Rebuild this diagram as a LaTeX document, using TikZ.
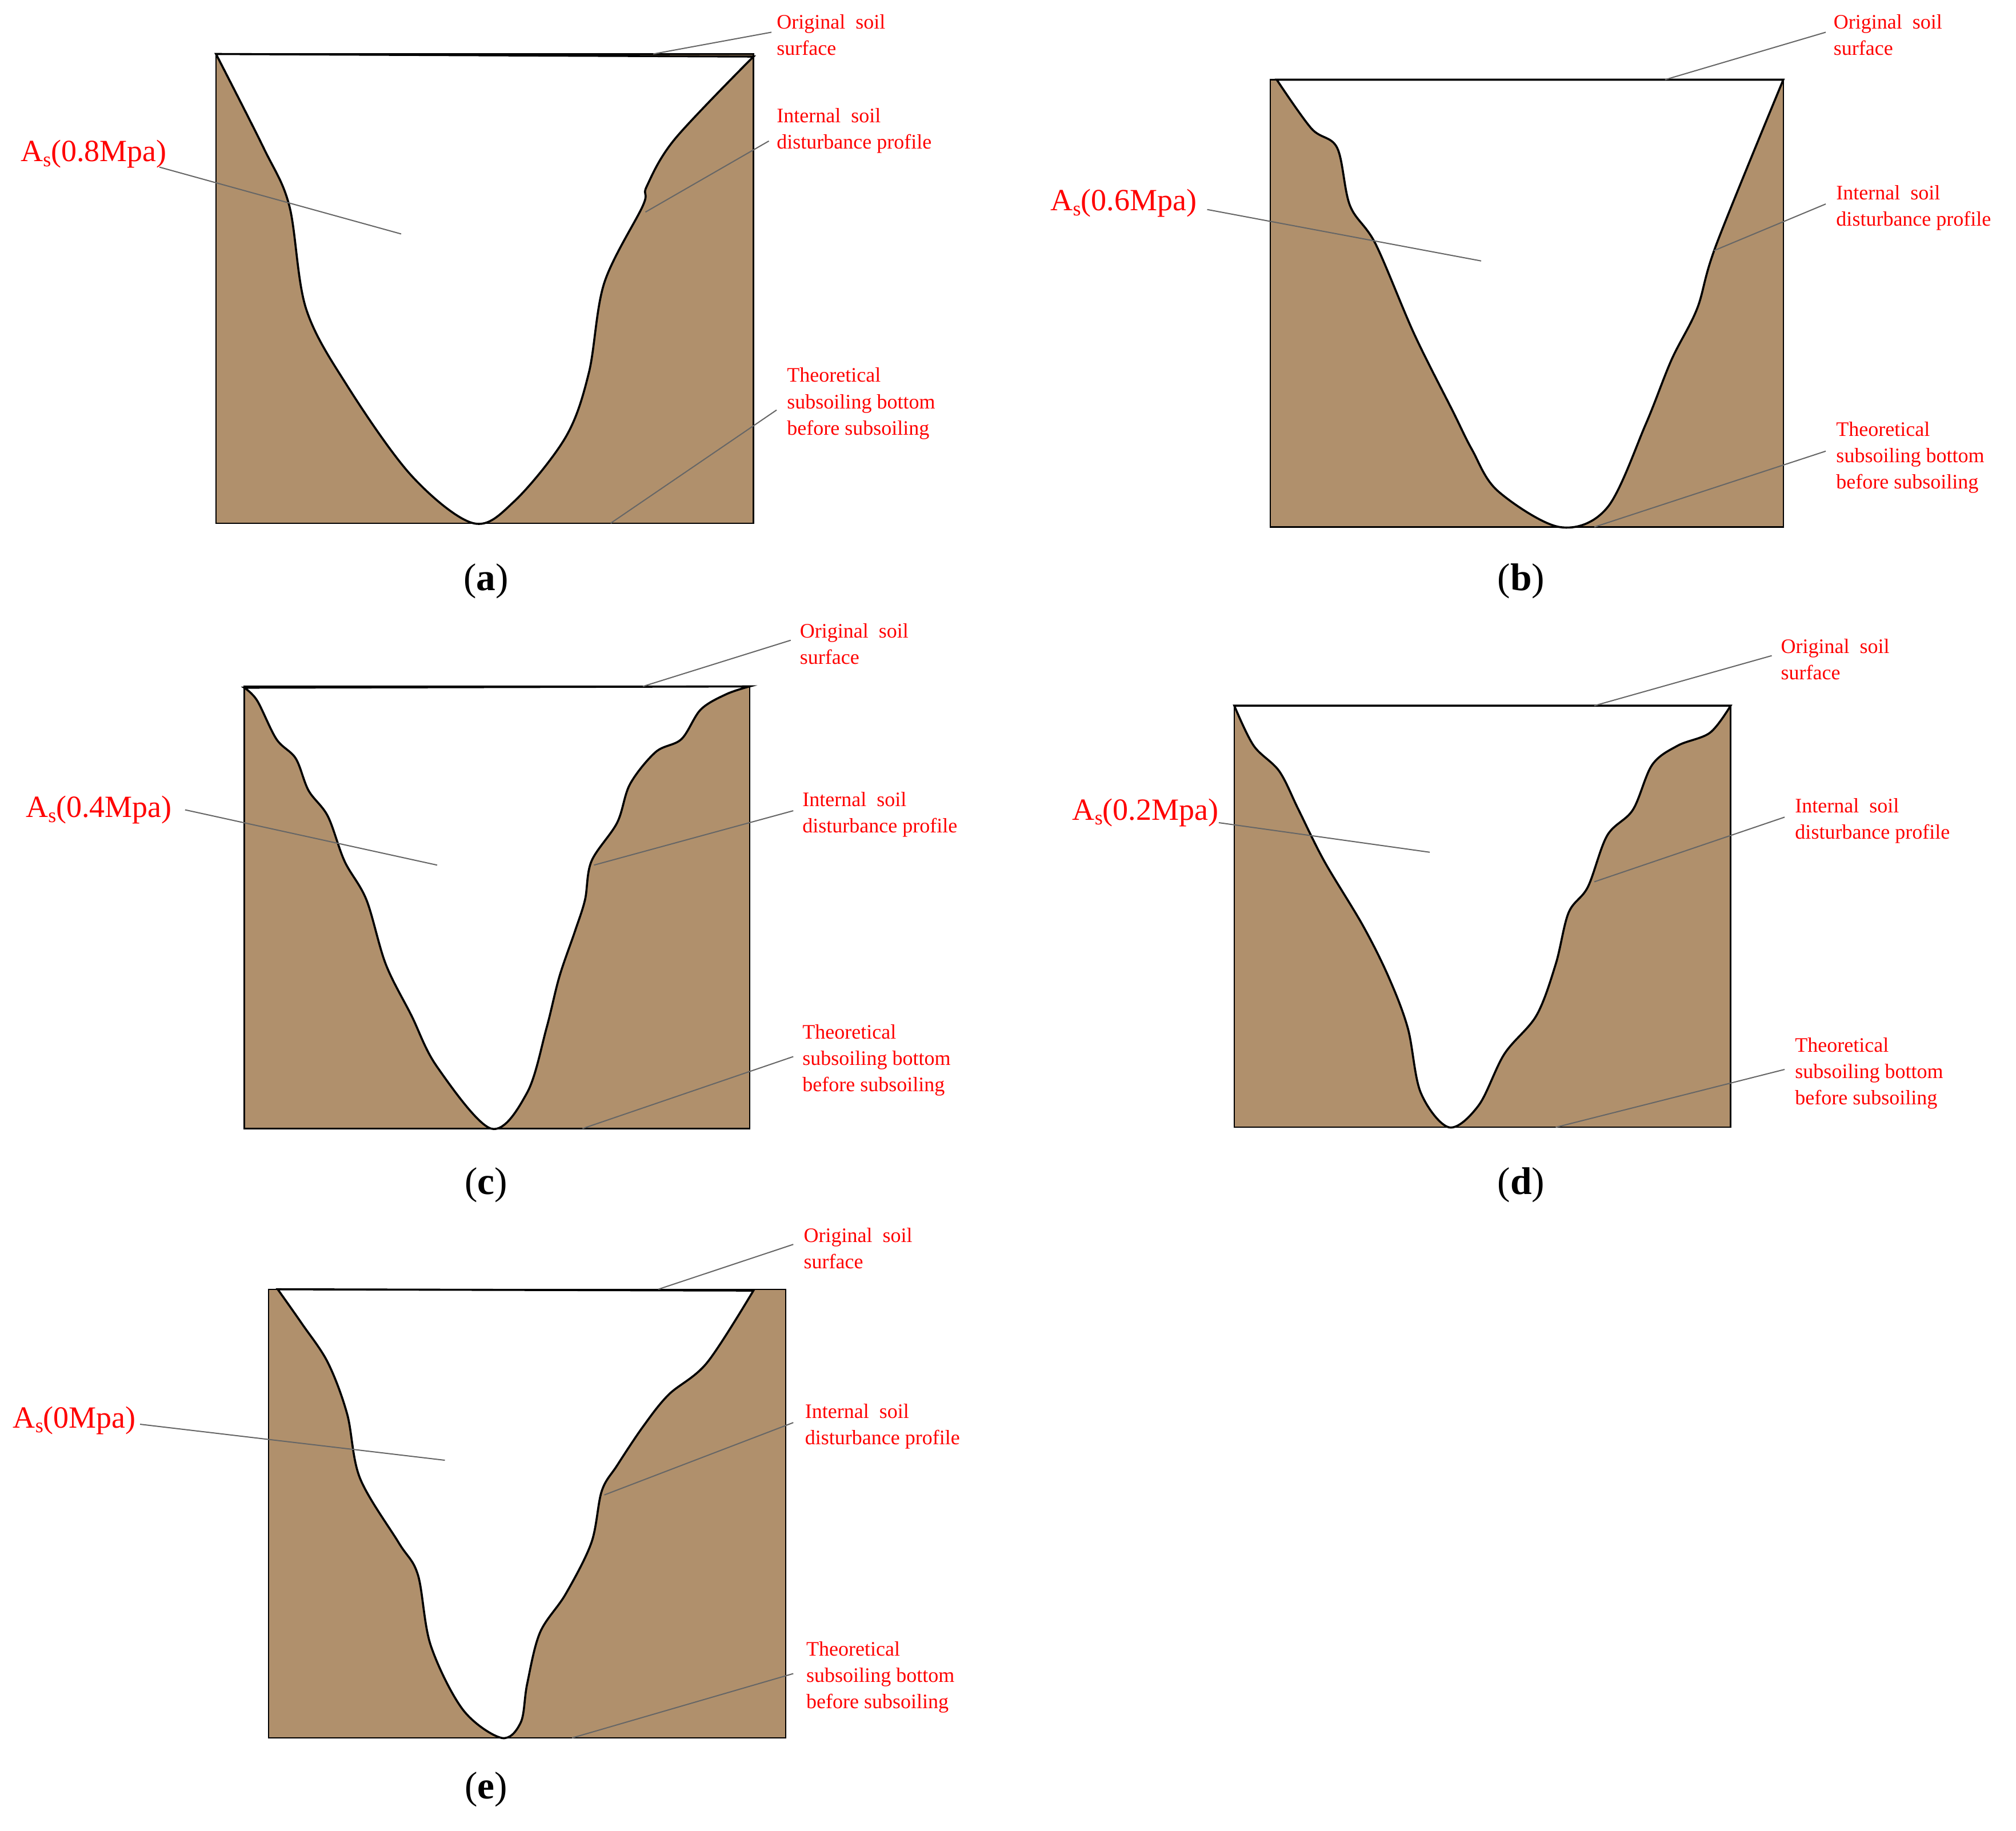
\documentclass[tikz,border=0pt]{standalone}
\usepackage{fontspec}
\setmainfont{Liberation Serif}
\begin{document}
\begin{tikzpicture}[x=1pt,y=-1pt,
  soil/.style={fill=soilc,draw=black,line width=1pt},
  prof/.style={fill=white,draw=black,line width=1.6pt},
  lab/.style={anchor=north west,inner sep=0pt,text=red,font=\fontsize{16}{20.5}\selectfont,align=left},
  aslab/.style={anchor=west,inner sep=0pt,text=red,font=\fontsize{24}{28}\selectfont},
  lead/.style={draw=gray!80!black,line width=0.9pt},
  figcap/.style={font=\fontsize{30}{34}\selectfont}]
\definecolor{soilc}{RGB}{176,144,108}
\useasboundingbox (0,0) rectangle (1568,1424);
\newcommand\As[1]{A\raisebox{-0.35ex}{\fontsize{16}{16}\selectfont s}(#1)}
% ---- (a)
\path[soil] (168,42) rectangle (586,407);
\path[prof] plot[smooth,tension=0.55] coordinates{(168,42)(205,115)(225,160)(238,240)(270,300)(320,370)(368,407)(400,390)(440,340)(458,290)(470,220)(500,160)(503,145)(525,108)(586,44)} -- cycle;
\node[lab] (a1) at (604,11) {Original\ \ soil\\surface};
\node[lab] (a2) at (604,84) {Internal\ \ soil\\disturbance profile};
\node[lab] (a3) at (612,286) {Theoretical\\subsoiling bottom\\before subsoiling};
\node[aslab] (a4) at (16,120) {\As{0.8Mpa}};
\coordinate (a1e) at (508,42); \coordinate (a2e) at (502,165); \coordinate (a3e) at (475,407); \coordinate (a4e) at (312,182);
\draw[lead] (a1.west)+(-4,-2) -- (a1e);
\draw[lead] (a2.west)+(-6,8) -- (a2e);
\draw[lead] (a3.west)+(-8,5) -- (a3e);
\draw[lead] (a4.east)+(-6,10) -- (a4e);
\node[figcap] (ca) at (378,452) {(\textbf{a})};
% ---- (b)
\path[soil] (988,62) rectangle (1387,410);
\path[prof] plot[smooth,tension=0.55] coordinates{(993,62)(1020,100)(1040,115)(1050,160)(1070,190)(1100,260)(1130,320)(1145,350)(1165,382)(1213,410)(1250,395)(1280,330)(1300,280)(1320,240)(1335,190)(1387,62)} -- cycle;
\node[lab] (b1) at (1426,11) {Original\ \ soil\\surface};
\node[lab] (b2) at (1428,144) {Internal\ \ soil\\disturbance profile};
\node[lab] (b3) at (1428,328) {Theoretical\\subsoiling bottom\\before subsoiling};
\node[aslab] (b4) at (817,158) {\As{0.6Mpa}};
\coordinate (b1e) at (1295,62); \coordinate (b2e) at (1333,195); \coordinate (b3e) at (1240,410); \coordinate (b4e) at (1152,203);
\draw[lead] (b1.west)+(-6,-2) -- (b1e);
\draw[lead] (b2.west)+(-8,-3) -- (b2e);
\draw[lead] (b3.west)+(-8,-5) -- (b3e);
\draw[lead] (b4.east)+(8,5) -- (b4e);
\node[figcap] (cb) at (1183,452) {(\textbf{b})};
% ---- (c)
\path[soil] (190,534) rectangle (583,878);
\path[prof] plot[smooth,tension=0.55] coordinates{(190,535)(200,545)(215,575)(230,590)(240,615)(255,635)(268,670)(285,700)(300,750)(320,790)(340,830)(382,878)(410,850)(425,800)(435,760)(447,725)(455,700)(460,670)(480,640)(490,610)(510,585)(530,575)(545,552)(565,540)(583,534)} -- cycle;
\node[lab] (c1) at (622,485) {Original\ \ soil\\surface};
\node[lab] (c2) at (624,616) {Internal\ \ soil\\disturbance profile};
\node[lab] (c3) at (624,797) {Theoretical\\subsoiling bottom\\before subsoiling};
\node[aslab] (c4) at (20,630) {\As{0.4Mpa}};
\coordinate (c1e) at (500,534); \coordinate (c2e) at (462,673); \coordinate (c3e) at (453,878); \coordinate (c4e) at (340,673);
\draw[lead] (c1.west)+(-7,-3) -- (c1e);
\draw[lead] (c2.west)+(-7,-3) -- (c2e);
\draw[lead] (c3.west)+(-7,-3) -- (c3e);
\draw[lead] (c4.east)+(10,0) -- (c4e);
\node[figcap] (cc) at (378,922) {(\textbf{c})};
% ---- (d)
\path[soil] (960,549) rectangle (1346,877);
\path[prof] plot[smooth,tension=0.55] coordinates{(960,549)(975,580)(995,600)(1010,630)(1030,670)(1060,720)(1080,760)(1095,800)(1105,850)(1127,877)(1150,860)(1170,820)(1195,790)(1210,750)(1220,710)(1235,690)(1250,650)(1270,630)(1285,595)(1305,580)(1330,570)(1346,549)} -- cycle;
\node[lab] (d1) at (1385,497) {Original\ \ soil\\surface};
\node[lab] (d2) at (1396,621) {Internal\ \ soil\\disturbance profile};
\node[lab] (d3) at (1396,807) {Theoretical\\subsoiling bottom\\before subsoiling};
\node[aslab] (d4) at (834,632) {\As{0.2Mpa}};
\coordinate (d1e) at (1240,549); \coordinate (d2e) at (1240,686); \coordinate (d3e) at (1210,877); \coordinate (d4e) at (1112,663);
\draw[lead] (d1.west)+(-7,-3) -- (d1e);
\draw[lead] (d2.west)+(-8,-3) -- (d2e);
\draw[lead] (d3.west)+(-8,-3) -- (d3e);
\draw[lead] (d4.east)+(0,8) -- (d4e);
\node[figcap] (cd) at (1183,922) {(\textbf{d})};
% ---- (e)
\path[soil] (209,1003) rectangle (611,1352);
\path[prof] plot[smooth,tension=0.55] coordinates{(216,1003)(235,1030)(255,1060)(270,1100)(280,1150)(310,1200)(325,1225)(335,1280)(360,1330)(390,1352)(405,1340)(410,1310)(420,1270)(440,1240)(460,1200)(468,1160)(480,1140)(500,1110)(520,1085)(550,1060)(586,1004)} -- cycle;
\node[lab] (e1) at (625,955) {Original\ \ soil\\surface};
\node[lab] (e2) at (626,1092) {Internal\ \ soil\\disturbance profile};
\node[lab] (e3) at (627,1277) {Theoretical\\subsoiling bottom\\before subsoiling};
\node[aslab] (e4) at (10,1105) {\As{0Mpa}};
\coordinate (e1e) at (512,1003); \coordinate (e2e) at (470,1163); \coordinate (e3e) at (445,1352); \coordinate (e4e) at (346,1136);
\draw[lead] (e1.west)+(-8,-3) -- (e1e);
\draw[lead] (e2.west)+(-9,-3) -- (e2e);
\draw[lead] (e3.west)+(-10,-3) -- (e3e);
\draw[lead] (e4.east)+(3,3) -- (e4e);
\node[figcap] (ce) at (378,1392) {(\textbf{e})};
\end{tikzpicture}
\end{document}
